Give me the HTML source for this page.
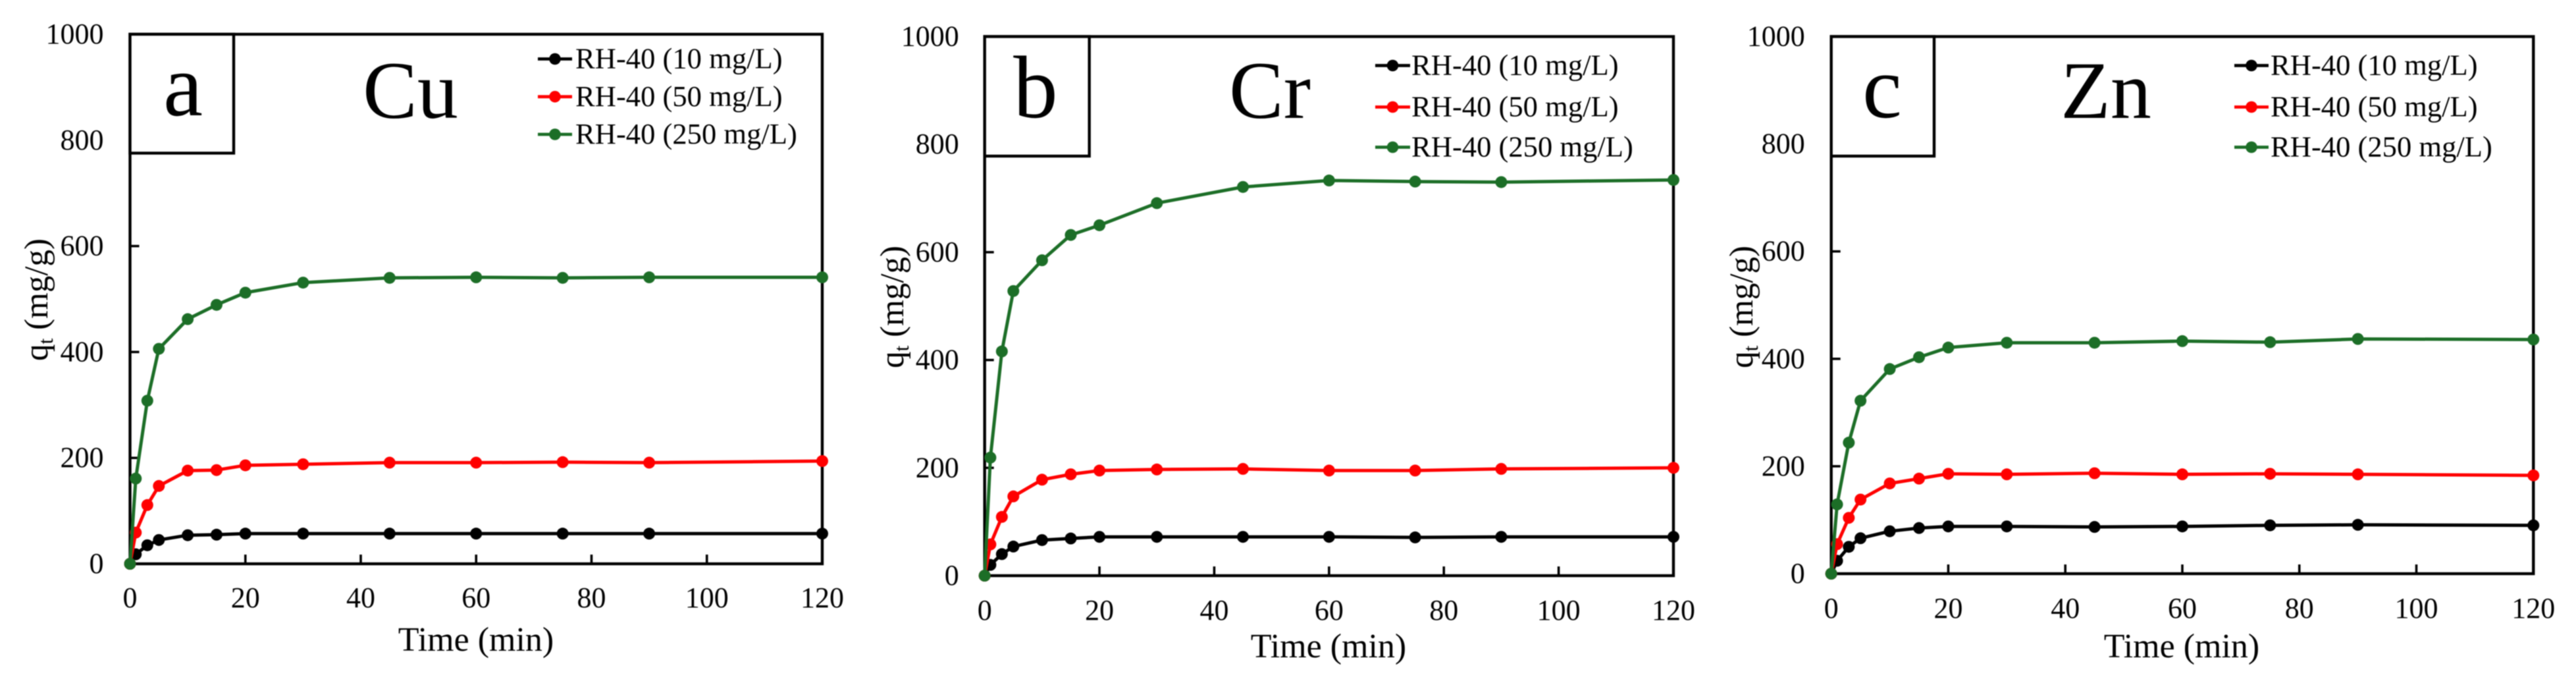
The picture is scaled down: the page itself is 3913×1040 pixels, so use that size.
<!DOCTYPE html>
<html lang="en">
<head>
<meta charset="utf-8">
<title>Adsorption kinetics of Cu, Cr and Zn on RH-40</title>
<style>
html,body{margin:0;padding:0;background:#fff;}
body{width:3913px;height:1040px;overflow:hidden;}
svg{display:block;filter:blur(0.7px);}
text{font-family:"Liberation Serif","Times New Roman",serif;fill:#000;}
</style>
</head>
<body>
<svg id="chart" xmlns="http://www.w3.org/2000/svg" width="3913" height="1040" viewBox="0 0 3913 1040"></svg>
<script>
const times = [0, 1, 3, 5, 10, 15, 20, 30, 45, 60, 75, 90, 120];
const xTickValues = [0, 20, 40, 60, 80, 100, 120];
const yTickValues = [0, 200, 400, 600, 800, 1000];
const seriesLabels = ['RH-40 (10 mg/L)', 'RH-40 (50 mg/L)', 'RH-40 (250 mg/L)'];

const cuLow = [0, 18, 35, 45, 54, 55, 57, 57, 57, 57, 57, 57, 57];
const cuMid = [0, 59, 111, 147, 176, 177, 186, 188, 191, 191, 192, 191, 194];
const cuHigh = [0, 161, 308, 406, 462, 489, 512, 531, 540, 541, 540, 541, 541];

const crLow = [0, 20, 40, 54, 66, 69, 72, 72, 72, 72, 71, 72, 72];
const crMid = [0, 58, 109, 147, 178, 188, 195, 197, 198, 195, 195, 198, 200];
const crHigh = [0, 219, 416, 528, 585, 632, 650, 691, 721, 733, 731, 730, 734];

const znLow = [0, 24, 50, 66, 79, 85, 88, 88, 87, 88, 90, 91, 90];
const znMid = [0, 55, 104, 138, 168, 177, 186, 185, 187, 185, 186, 185, 183];
const znHigh = [0, 129, 244, 322, 381, 403, 421, 430, 430, 433, 431, 437, 436];

const seriesColors = ['#000000', '#ff0000', '#1c6e27'];
const seriesKeys = ['10-mg-l', '50-mg-l', '250-mg-l'];

const panels = [
  {key: 'cu', letter: 'a', metal: 'Cu', series: [cuLow, cuMid, cuHigh],
   L: 197.5, R: 1249, T: 52, B: 856, insetR: 355, insetB: 232.5,
   letterX: 278, letterY: 175, metalX: 623.5, metalY: 179,
   legLineX: 817, legLineW: 52, legTextX: 874, legY: [89.5, 146.8, 204],
   xTitleX: 723, xTitleY: 988, yTitleX: 72, yTitleY: 455, xLabelDy: 66, yLabelDx: 40},
  {key: 'cr', letter: 'b', metal: 'Cr', series: [crLow, crMid, crHigh],
   L: 1495.7, R: 2542, T: 55.5, B: 874, insetR: 1654.7, insetB: 237,
   letterX: 1573, letterY: 178, metalX: 1929, metalY: 179,
   legLineX: 2089, legLineW: 53, legTextX: 2144, legY: [99.5, 162.5, 223.5],
   xTitleX: 2018, xTitleY: 998, yTitleX: 1372, yTitleY: 466, xLabelDy: 67, yLabelDx: 39},
  {key: 'zn', letter: 'c', metal: 'Zn', series: [znLow, znMid, znHigh],
   L: 2781.7, R: 3848.3, T: 55.5, B: 871, insetR: 2938, insetB: 237,
   letterX: 2859, letterY: 178, metalX: 3199, metalY: 179,
   legLineX: 3394, legLineW: 52, legTextX: 3449, legY: [99.5, 162.5, 223.5],
   xTitleX: 3314, xTitleY: 998, yTitleX: 2662, yTitleY: 466, xLabelDy: 67, yLabelDx: 40}
];

const NS = 'http://www.w3.org/2000/svg';
const svg = document.getElementById('chart');

function make(parent, tag, props, content) {
  const el = document.createElementNS(NS, tag);
  for (const k in props) el.setAttribute(k, props[k]);
  if (content !== undefined) el.textContent = content;
  parent.appendChild(el);
  return el;
}

panels.forEach(function (p) {
  const xScale = function (v) { return p.L + (v / 120) * (p.R - p.L); };
  const yScale = function (v) { return p.B - (v / 1000) * (p.B - p.T); };

  const g = make(svg, 'g', {});
  
  

  const frame = make(g, 'rect', {x: p.L, y: p.T, width: p.R - p.L, height: p.B - p.T, fill: 'none', stroke: '#000', 'stroke-width': 4.4});
  
  

  xTickValues.forEach(function (v) {
    if (v > 0 && v < 120) {
      const tick = make(g, 'line', {x1: xScale(v), x2: xScale(v), y1: p.B, y2: p.B - 14, stroke: '#000', 'stroke-width': 3.6});
      
      
    }
    const label = make(g, 'text', {x: xScale(v), y: p.B + p.xLabelDy, 'font-size': 44, 'text-anchor': 'middle'}, String(v));
    
    
  });

  yTickValues.forEach(function (v) {
    if (v > 0 && v < 1000) {
      const tick = make(g, 'line', {x1: p.L, x2: p.L + 14, y1: yScale(v), y2: yScale(v), stroke: '#000', 'stroke-width': 3.6});
      
      
    }
    const label = make(g, 'text', {x: p.L - p.yLabelDx, y: yScale(v) + 14, 'font-size': 44, 'text-anchor': 'end'}, String(v));
    
    
  });

  const inset = make(g, 'rect', {x: p.L, y: p.T, width: p.insetR - p.L, height: p.insetB - p.T, fill: '#fff', stroke: '#000', 'stroke-width': 4.4});
  
  

  const letter = make(g, 'text', {x: p.letterX, y: p.letterY, 'font-size': 135, 'text-anchor': 'middle'}, p.letter);
  
  

  const metal = make(g, 'text', {x: p.metalX, y: p.metalY, 'font-size': 124, 'text-anchor': 'middle'}, p.metal);
  
  

  const xTitle = make(g, 'text', {x: p.xTitleX, y: p.xTitleY, 'font-size': 52, 'text-anchor': 'middle'}, 'Time (min)');
  
  

  const yTitle = make(g, 'text', {x: 0, y: 0, 'font-size': 51, 'text-anchor': 'middle',
    transform: 'translate(' + p.yTitleX + ',' + p.yTitleY + ') rotate(-90)'});
  
  
  make(yTitle, 'tspan', {}, 'q');
  make(yTitle, 'tspan', {'font-size': 32, dy: 8}, 't');
  make(yTitle, 'tspan', {dy: -8}, ' (mg/g)');

  p.series.forEach(function (values, s) {
    const sg = make(g, 'g', {});
    
    

    const pts = values.map(function (v, i) { return xScale(times[i]) + ',' + yScale(v); }).join(' ');
    const line = make(sg, 'polyline', {points: pts, fill: 'none', stroke: seriesColors[s], 'stroke-width': 5, 'stroke-linejoin': 'round'});
    
    

    values.forEach(function (v, i) {
      const dot = make(sg, 'circle', {cx: xScale(times[i]), cy: yScale(v), r: 9, fill: seriesColors[s]});
      
      
    });
  });

  seriesLabels.forEach(function (labelText, s) {
    const lg = make(g, 'g', {});
    
    

    const ly = p.legY[s];
    const swatch = make(lg, 'line', {x1: p.legLineX, x2: p.legLineX + p.legLineW, y1: ly, y2: ly, stroke: seriesColors[s], 'stroke-width': 4.8});
    
    

    const marker = make(lg, 'circle', {cx: p.legLineX + p.legLineW / 2, cy: ly, r: 8.8, fill: seriesColors[s]});
    
    

    const text = make(lg, 'text', {x: p.legTextX, y: ly + 14, 'font-size': 44.6}, labelText);
    
    
  });
});
</script>
</body>
</html>
